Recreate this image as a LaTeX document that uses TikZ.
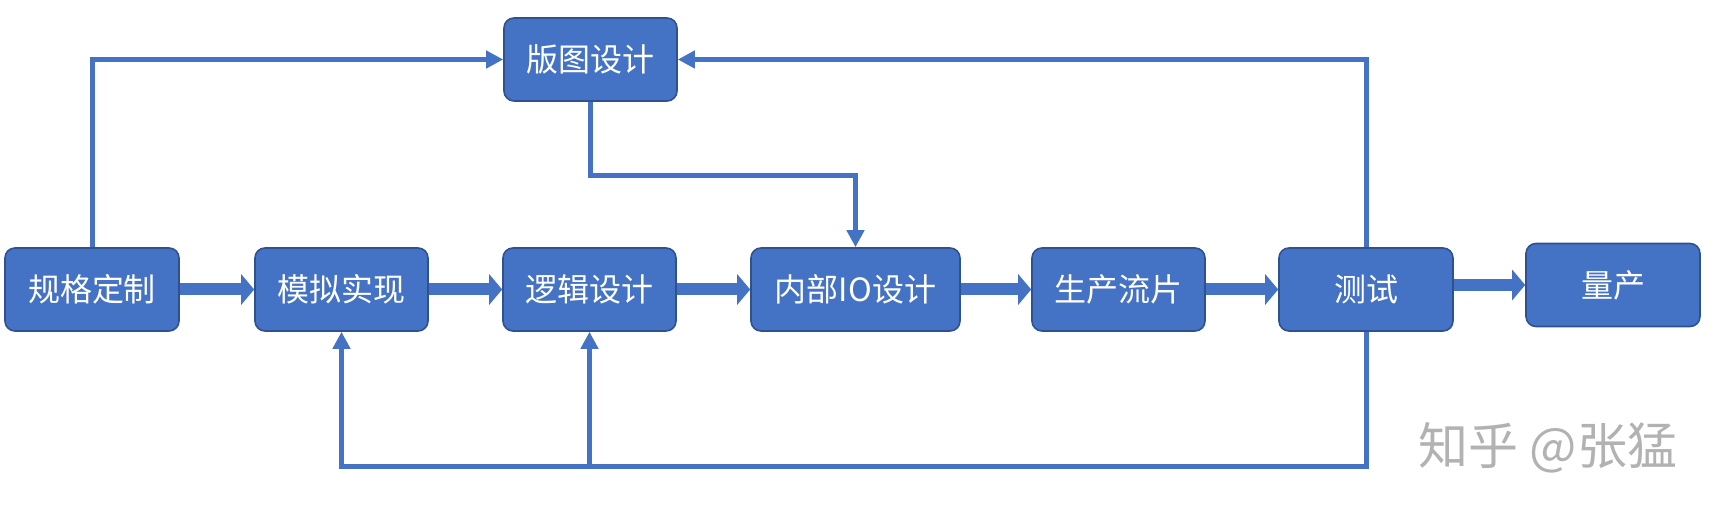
\documentclass[tikz,border=0pt]{standalone}
\usepackage{fontspec}
\setmainfont{Noto Sans CJK SC}
\usetikzlibrary{calc}
\usetikzlibrary{arrows.meta}
\definecolor{boxblue}{HTML}{4472C4}
\definecolor{edgeblue}{HTML}{2F528F}

\begin{document}
\begin{tikzpicture} [x=.5pt, y=-.5pt,
  box/.style={draw=edgeblue, line width=.8pt, fill=boxblue, rounded corners=5pt, text=white, font=\fontsize{16}{19}\selectfont, minimum height=41.5pt, inner sep=0pt},
  flow/.style={draw=boxblue, line width=6pt, -{Triangle[length=6.5pt, width=15pt]}},
  link/.style={draw=boxblue, line width=2.5pt, -{Triangle[length=8.5pt, width=8.5pt]}}]
\useasboundingbox (0,0) rectangle (1726,517);

\foreach \name/\x/\w/\txt in {spec/92/87/规格定制, sim/341.5/86.5/模拟实现, logic/589.5/86.5/逻辑设计, io/855.5/104.5/内部IO设计, fab/1118.5/86.5/生产流片, test/1366/87/测试}
  \node[box, minimum width=\w pt] (\name) at (\x,289.5) {\txt};
\node[box, minimum width=87pt] (mass) at (1613,285) {量产};
\node[box, minimum width=86.5pt] (layout) at (590.5,59.5) {版图设计};

\foreach \a/\b in {spec/sim, sim/logic, logic/io, io/fab, fab/test} \draw[flow] (\a.east) -- (\b.west);
\draw[flow] (test.east |- mass.west) -- (mass.west);

\draw[link] (spec.north) |- (layout.west);
\draw[link] (test.north) |- (layout.east);
\draw[link] (layout.south) -- ++(0,74) -| (io.north);
\draw[link] (test.south) -- ++(0,135) -| (sim.south);
\coordinate (joint) at ($(logic.south)+(0,135)$);
\draw[link] (joint) -- (logic.south);

\node[text=gray!60, font=\fontsize{25}{30}\selectfont] (mark) at (1548,448) {知乎 @张猛};

\end{tikzpicture}
\end{document}
